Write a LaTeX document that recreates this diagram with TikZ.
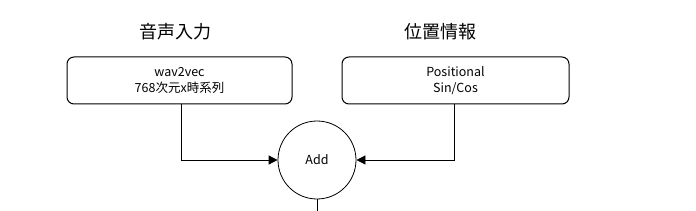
\documentclass[tikz,border=0pt]{standalone}
\usepackage{fontspec}
\setmainfont{Noto Sans CJK JP}
\usetikzlibrary{arrows.meta}
\begin{document}
\begin{tikzpicture}[x=1pt,y=-1pt,
  box/.style={draw,line width=1pt,rounded corners=7pt,minimum width=225pt,minimum height=47pt,inner sep=0pt,align=center,font=\fontsize{12.5}{16}\selectfont},
  title/.style={font=\fontsize{18}{20}\selectfont,inner sep=0pt},
  conn/.style={draw,line width=0.8pt,-{Triangle[length=9pt,width=9pt]}}]
\useasboundingbox (0,0) rectangle (696,211);
\node[title] (t1) at (175,32) {音声入力};
\node[title] (t2) at (440,32) {位置情報};
\node[box] (b1) at (179.5,80.5) {wav2vec\\768次元x時系列};
\node[box,minimum width=227pt] (b2) at (455.5,80.5) {Positional\\Sin/Cos};
\node[draw,circle,line width=0.8pt,minimum size=78pt,inner sep=0pt,font=\fontsize{12.5}{14}\selectfont] (add) at (317,160) {Add};
\coordinate (bot) at (317,211);
\draw[conn] (b1.south -| 181,0) |- (add.west);
\draw[conn] (b2.south -| 454,0) |- (add.east);
\draw[line width=0.8pt] (add.south) -- (bot);
\end{tikzpicture}
\end{document}
